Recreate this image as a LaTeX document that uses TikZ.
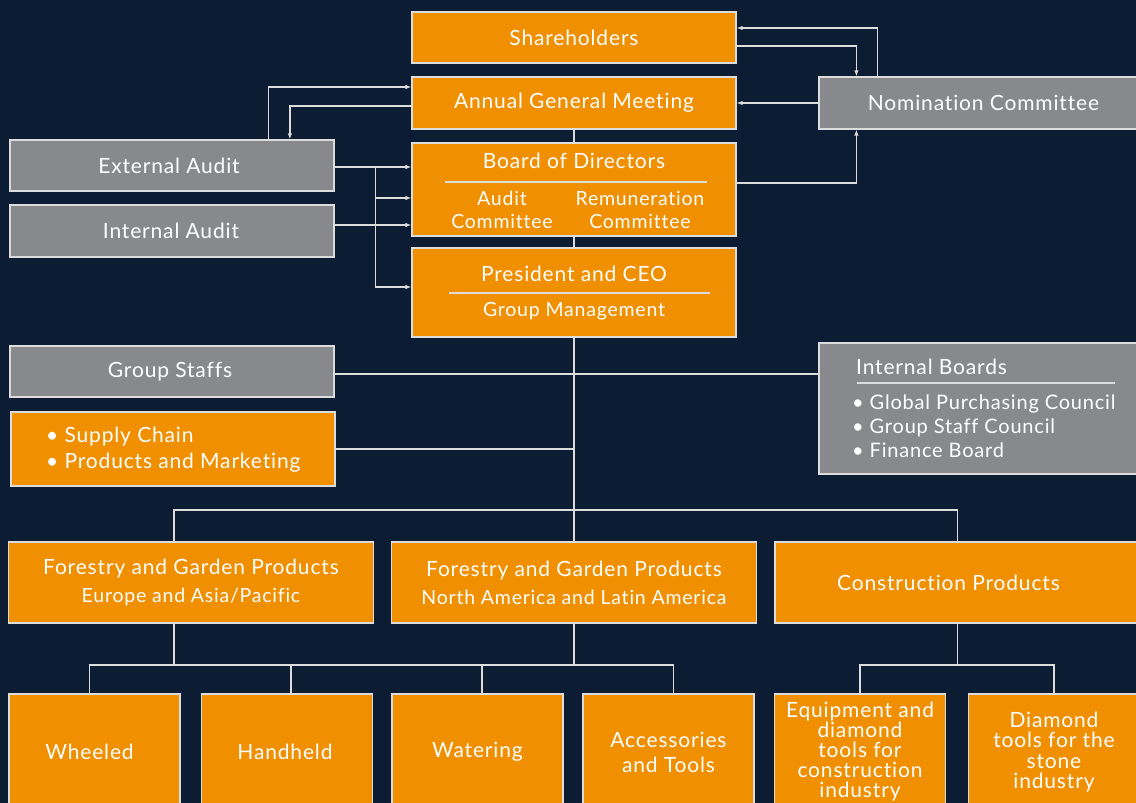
\documentclass[tikz,border=0pt]{standalone}
\usepackage{fontspec}
\setmainfont{Lato}[LetterSpace=4, Ligatures=NoCommon]
\usetikzlibrary{arrows.meta}
\definecolor{navy}{HTML}{0B1C33}
\definecolor{boxorange}{HTML}{F08F00}
\definecolor{boxgrey}{HTML}{88898C}
\definecolor{edge}{HTML}{DCDCDC}

\begin{document}
\begin{tikzpicture}
  [x=1pt, y=-1pt,
   box/.style={draw=edge, line width=1.2pt, text=white, inner sep=0pt, align=center,
     font=\fontsize{21}{25}\selectfont},
   orangebox/.style={box, fill=boxorange},
   greybox/.style={box, fill=boxgrey},
   lbl/.style={text=white, inner sep=0pt, align=center, font=\fontsize{21}{25}\selectfont},
   small/.style={text=white, inner sep=0pt, align=center, font=\fontsize{19.5}{23}\selectfont},
   link/.style={draw=edge, line width=1.2pt},
   arr/.style={link, -{Latex[length=6pt,width=4.5pt]}}]
  \useasboundingbox (0,0) rectangle (1136,803);
  \fill[navy] (0,0) rectangle (1136,803);
  \clip (0,0) rectangle (1136,803);

  % governance
  \node[orangebox, minimum width=324pt, minimum height=51pt] (sh) at (574,37.5) {Shareholders};
  \node[orangebox, minimum width=324pt, minimum height=52pt] (agm) at (574,103) {Annual General Meeting};
  \node[greybox, minimum width=329pt, minimum height=52pt] (nom) at (983.5,103) {Nomination Committee};
  \node[greybox, minimum width=324pt, minimum height=51pt] (ext) at (172,165.5) {External Audit\hspace*{6pt}};
  \node[greybox, minimum width=324pt, minimum height=52pt] (int) at (172,231) {Internal Audit\hspace*{2pt}};

  \node[orangebox, minimum width=324pt, minimum height=93pt] (bod) at (574,189.5) {};
  \node[lbl] (bodt) at (574,161) {Board of Directors};
  \node[small] (aud) at (502,210) {Audit\\Committee};
  \node[small] (rem) at (640,210) {Remuneration\\Committee};
  \draw[link] (445,182) -- (707,182);

  \node[orangebox, minimum width=324pt, minimum height=89pt] (ceo) at (574,292.5) {};
  \node[lbl] (ceot) at (574,274) {President and CEO};
  \node[small] (gm) at (574,311) {Group Management};
  \draw[link] (449,293) -- (710,293);

  % staffs and boards
  \node[greybox, minimum width=324pt, minimum height=51pt] (gs) at (172,371.5) {Group Staffs\hspace*{4pt}};
  \node[orangebox, minimum width=324pt, minimum height=74pt] (sc) at (173,449) {};
  \node[lbl, anchor=west, align=left, font=\fontsize{21}{26}\selectfont] (scl) at (46,450)
    {• Supply Chain\\• Products and Marketing};
  \node[greybox, minimum width=329pt, minimum height=131pt] (ib) at (983.5,408.5) {};
  \node[lbl, anchor=west] (ibt) at (856,367) {Internal Boards};
  \draw[link] (857,383) -- (1115,383);
  \node[lbl, anchor=west, align=left, font=\fontsize{20}{24}\selectfont] (ibl) at (852,426)
    {• Global Purchasing Council\\• Group Staff Council\\• Finance Board};

  % divisions
  \node[orangebox, minimum width=365pt, minimum height=81pt, font=\fontsize{21}{28}\selectfont] (fgeu) at (191,582.5)
    {Forestry and Garden Products\\{\fontsize{19.5}{28}\selectfont Europe and Asia/Pacific}};
  \node[orangebox, minimum width=365pt, minimum height=81pt, font=\fontsize{21}{28}\selectfont] (fgna) at (574,582.5)
    {Forestry and Garden Products\\{\fontsize{19.5}{28}\selectfont North America and Latin America}};
  \node[orangebox, minimum width=365pt, minimum height=81pt] (cp) at (957.5,582.5) {Construction Products\hspace*{18pt}};

  \node[orangebox, minimum width=171pt, minimum height=116pt] (wh) at (94.5,752) {Wheeled\hspace*{10pt}};
  \node[orangebox, minimum width=171pt, minimum height=116pt] (hh) at (287,752) {Handheld\hspace*{4pt}};
  \node[orangebox, minimum width=171pt, minimum height=116pt] (wa) at (477.5,752) {Watering};
  \node[orangebox, minimum width=171pt, minimum height=116pt, font=\fontsize{21}{25}\selectfont] (at) at (668.5,752)
    {Accessories\\and Tools};
  \node[orangebox, minimum width=171pt, minimum height=116pt, font=\fontsize{21}{20}\selectfont] (eq) at (860,752)
    {Equipment and\\diamond\\tools for\\construction\\industry};
  \node[orangebox, minimum width=171pt, minimum height=116pt, font=\fontsize{21}{20.5}\selectfont] (dt) at (1054,752)
    {Diamond\\tools for the\\stone\\industry};

  \coordinate (bus1) at (574,510);
  \coordinate (bus2) at (574,665);
  \coordinate (bus3) at (957.5,665);
  \coordinate (tap) at (375.5,167);

  \foreach \from/\to in {agm/bod,bod/ceo,ceo/fgna,fgna/bus2,cp/bus3}
  \draw[link] (\from.south) -- (\to);
  \draw[link] ([xshift=-17pt]fgeu.north) |- (bus1) -| (cp.north);
  \draw[link] ([xshift=-17pt]fgeu.south) -- ([xshift=-17pt]fgeu.south |- bus2);
  \draw[link] ([xshift=-5pt]wh.north) |- (bus2) -| ([xshift=5pt]at.north);
  \draw[link] ([xshift=4pt]hh.north) -- ([xshift=4pt]hh.north |- bus2);
  \draw[link] ([xshift=4.5pt]wa.north) -- ([xshift=4.5pt]wa.north |- bus2);
  \draw[link] (eq.north) |- (bus3) -| (dt.north);
  \draw[link] ([yshift=-2.5pt]gs.east) -- ([yshift=-2.5pt]gs.east -| ib.west);
  \draw[link] (sc.east) -- (sc.east -| ceo.south);

  % arrows
  \draw[arr] ([xshift=59pt]nom.north west) |- ([yshift=9.5pt]sh.east);
  \draw[arr] ([yshift=-8.5pt]sh.east) -| ([xshift=38pt]nom.north west);
  \draw[arr] (nom.west) -- (agm.east);
  \draw[arr] ([xshift=259pt]ext.north west) |- ([yshift=16pt]agm.west);
  \draw[arr] ([yshift=-3pt]agm.west) -| ([xshift=280.5pt]ext.north west);
  \draw[arr] ([yshift=6.5pt]bod.east) -| ([xshift=38pt]nom.south west);
  \draw[arr] (ext.east |- tap) -- (tap -| bod.west);
  \draw[arr] ([yshift=6pt]int.east) -- ([yshift=6pt]int.east -| bod.west);
  \draw[arr] (tap) |- ([yshift=-8.5pt]bod.west);
  \draw[arr] (tap) |- ([yshift=5.5pt]ceo.west);
\end{tikzpicture}
\end{document}
